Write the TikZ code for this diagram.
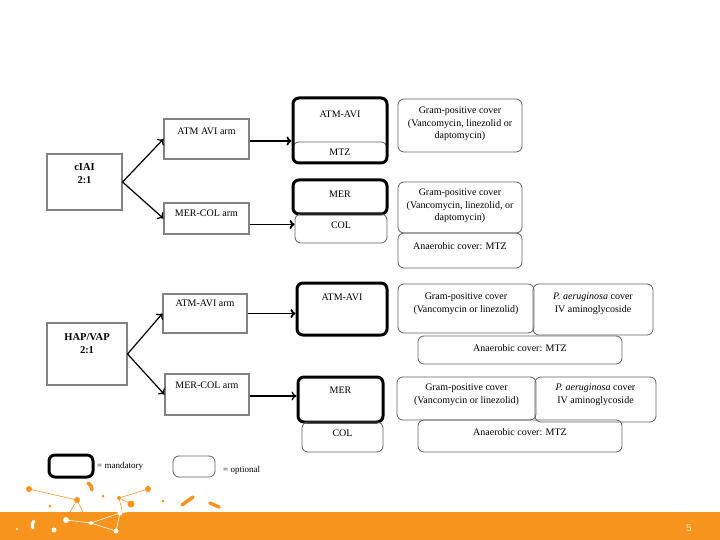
\documentclass[tikz,border=0pt]{standalone}
\usepackage{fontspec}
\setmainfont{Liberation Serif}
\newfontfamily\numfont{Liberation Sans}
\usetikzlibrary{arrows.meta,calc}
\definecolor{barorange}{RGB}{247,148,29}
\definecolor{armgray}{RGB}{130,130,130}
\definecolor{optgray}{RGB}{95,95,95}
\definecolor{numcol}{RGB}{253,232,196}

\begin{document}
\begin{tikzpicture}[x=1pt,y=-1pt,font=\fontsize{10}{12.5}\selectfont,
	armbox/.style={draw=armgray,line width=1.1pt,inner sep=0},
	mandbox/.style={draw=black,line width=3pt,rounded corners=6pt,inner sep=0},
	optbox/.style={draw=optgray,line width=0.8pt,rounded corners=6pt,inner sep=0},
	txt/.style={inner sep=0,align=center},
	head/.style={txt,font=\fontsize{10.5}{13}\selectfont\bfseries},
	arm/.style={-{To[length=5pt,width=9pt]},line width=1.2pt},
	feed/.style={-{To[length=5pt,width=9pt]},line width=1.8pt}]
	\useasboundingbox (0,0) rectangle (720,540);
	% left side : populations and arms
	\node[armbox,minimum width=75pt,minimum height=56pt] (iai) at (84.5,182) {};
	\node[head] (iait) at (84.5,174) {cIAI\\2:1};
	\node[armbox,minimum width=80pt,minimum height=62pt] (hap) at (87,354) {};
	\node[head] (hapt) at (87,344) {HAP/VAP\\2:1};
	\foreach \nom/\x/\y/\w/\h/\ty/\texte in
	{atmA/206.5/139/85/40/131/{ATM AVI arm},
	mcA/206.5/218.5/85/31/213/{MER-COL arm},
	atmB/205/313.5/84/39/303/{ATM-AVI arm},
	mcB/207/394.5/84/41/385/{MER-COL arm}}
		{\node[armbox,minimum width=\w pt,minimum height=\h pt] (\nom) at (\x,\y) {};
		\node[txt] (\nom t) at (\x,\ty) {\texte};}
	% mandatory and optional drugs
	\node[optbox,minimum width=94pt,minimum height=21pt] (mtzA) at (340,152.5) {};
	\node[mandbox,minimum width=94pt,minimum height=65pt] (aviA) at (340,130.5) {};
	\node[txt] (aviAt) at (340,114) {ATM-AVI};
	\node[txt] (mtzAt) at (340,152.5) {MTZ};
	\node[mandbox,minimum width=94pt,minimum height=34pt] (merA) at (340,197) {};
	\node[txt] (merAt) at (340,194) {MER};
	\node[optbox,minimum width=92pt,minimum height=29pt] (colA) at (341,228.5) {};
	\node[txt] (colAt) at (341,225) {COL};
	\node[mandbox,minimum width=90pt,minimum height=52pt] (aviB) at (342,309) {};
	\node[txt] (aviBt) at (342,297) {ATM-AVI};
	\node[mandbox,minimum width=85pt,minimum height=45pt] (merB) at (340.5,399.5) {};
	\node[txt] (merBt) at (340.5,390) {MER};
	\node[optbox,minimum width=81pt,minimum height=30pt] (colB) at (342.5,437) {};
	\node[txt] (colBt) at (342.5,433) {COL};
	% additional cover
	\node[optbox,minimum width=124pt,minimum height=53pt] (gpA) at (460,125.5) {};
	\node[txt] (gpAt) at (460,124) {Gram-positive cover\\(Vancomycin, linezolid or\\daptomycin)};
	\node[optbox,minimum width=124pt,minimum height=51pt] (gpB) at (460,207.5) {};
	\node[txt] (gpBt) at (460,206) {Gram-positive cover\\(Vancomycin, linezolid, or\\daptomycin)};
	\node[optbox,minimum width=124pt,minimum height=35pt] (anA) at (460,250.5) {};
	\node[txt] (anAt) at (460,246) {Anaerobic cover: MTZ};
	\node[optbox,minimum width=136pt,minimum height=49pt] (gpC) at (466,308.5) {};
	\node[txt] (gpCt) at (466,304) {Gram-positive cover\\(Vancomycin or linezolid)};
	\node[optbox,minimum width=120pt,minimum height=51pt] (paA) at (593,309.5) {};
	\node[txt] (paAt) at (593,304) {{\itshape P. aeruginosa} cover\\IV aminoglycoside};
	\node[optbox,minimum width=204pt,minimum height=28pt] (anB) at (520,350) {};
	\node[txt] (anBt) at (520,348) {Anaerobic cover: MTZ};
	\node[optbox,minimum width=139pt,minimum height=43pt] (gpD) at (466.5,398.5) {};
	\node[txt] (gpDt) at (466.5,395) {Gram-positive cover\\(Vancomycin or linezolid)};
	\node[optbox,minimum width=121pt,minimum height=45pt] (paB) at (595.5,399.5) {};
	\node[txt] (paBt) at (595.5,395) {{\itshape P. aeruginosa} cover\\IV aminoglycoside};
	\node[optbox,minimum width=204pt,minimum height=32pt] (anC) at (520,436) {};
	\node[txt] (anCt) at (520,432) {Anaerobic cover: MTZ};
	% arrows
	\draw[arm] (iai.east) -- (atmA.west);
	\draw[arm] (iai.east) -- (mcA.west);
	\draw[arm] (hap.east) -- (atmB.west);
	\draw[arm] (hap.east) -- (mcB.west);
	\draw[feed] ([yshift=-2pt]atmA.east) -- ([yshift=-2pt]atmA.east -| aviA.west);
	\draw[feed] ([yshift=-6pt]mcA.east) -- ([yshift=-6pt]mcA.east -| colA.west);
	\draw[feed] (atmB.east) -- (atmB.east -| aviB.west);
	\draw[arm] ([yshift=-1.5pt]mcB.east) -- ([yshift=-1.5pt]mcB.east -| merB.west);
	% legend
	\node[mandbox,minimum width=44pt,minimum height=22pt] (legM) at (71,466) {};
	\node[txt,anchor=west,font=\fontsize{9}{11}\selectfont] (legMt) at (97,466) {= mandatory};
	\node[optbox,minimum width=42pt,minimum height=21pt] (legO) at (194,466.5) {};
	\node[txt,anchor=west,font=\fontsize{9}{11}\selectfont] (legOt) at (223,470) {= optional};
	% footer bar
	\fill[barorange] (0,512) rectangle (720,540);
	\node[txt,text=numcol,font=\numfont\fontsize{10}{12}\selectfont] (page) at (689,528) {5};
	\draw[barorange,line width=0.6pt] (29,489) -- (77,500) -- (70,512) (77,500) -- (83,512)
		(148,489) -- (119,498) -- (122,510) (119,498) -- (131,504);
	\draw[white,line width=0.6pt] (66,520) -- (91,523) -- (120,513) -- (127,512) (91,523) -- (116,531) (120,513) -- (116,531);
	\foreach \pt/\r in {(29,489)/3,(77,500)/3,(148,489)/3,(131,504)/3.5,(119,498)/2,(103,496)/1.5,(50,506)/1.5,(163,501)/1.5}
		{\fill[barorange] \pt circle (\r);}
	\foreach \pt/\r in {(17,529)/1.2,(54,530)/2.5,(66,520)/3,(91,523)/2,(116,531)/2.5,(120,513)/2.5}
		{\fill[white] \pt circle (\r);}
	\draw[barorange,line width=3.5pt,line cap=round] (88,483) to[bend left=30] (92,490) (182,505) -- (193,497) (210,503) -- (219,507);
	\draw[white,line width=3pt,line cap=round] (34,521) to[bend right=40] (33,528);
\end{tikzpicture}
\end{document}
